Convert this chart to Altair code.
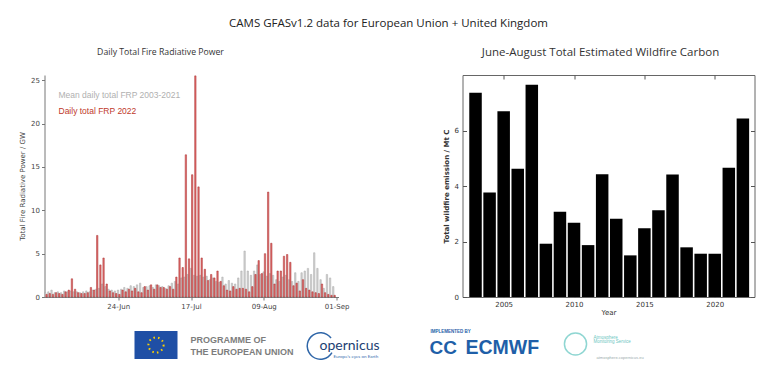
import altair as alt
import pandas as pd

# ---------------- data ----------------
day_labels = [d.strftime("%d-%b") for d in pd.date_range("2022-06-01", "2022-09-01")]
tick_labels = ["24-Jun", "17-Jul", "09-Aug", "01-Sep"]
series_names = ["Mean daily total FRP 2003-2021", "Daily total FRP 2022"]

mean_frp = [
    0.5, 0.6, 0.8, 0.5, 0.6, 0.5, 0.7, 0.6,
    0.7, 0.6, 0.6, 0.5, 0.6, 0.7, 0.6, 0.8,
    0.9, 1.0, 1.5, 1.2, 0.9, 0.8, 0.7, 0.8,
    0.9, 1.1, 1.0, 1.3, 1.2, 1.4, 1.6, 1.1,
    1.2, 1.3, 1.1, 1.4, 1.3, 1.2, 1.0, 1.3,
    1.6, 1.8, 1.5, 2.2, 2.3, 2.6, 3.3, 2.5,
    2.4, 2.5, 2.3, 2.4, 2.0, 2.2, 1.8, 1.7,
    2.3, 1.5, 1.9, 1.6, 1.5, 2.2, 3.0, 5.3,
    3.0, 2.5, 3.0, 3.7, 2.6, 2.9, 2.4, 2.7,
    2.5, 2.0, 1.8, 2.3, 2.5, 2.0, 1.8, 2.8,
    1.8, 2.8, 3.0, 3.3, 2.6, 5.1, 3.3, 2.0,
    1.0, 2.6, 2.2, 1.2,
]
frp_2022 = [
    0.3, 0.4, 0.3, 0.5, 0.4, 0.3, 0.6, 0.8,
    2.1, 0.9, 0.5, 0.4, 0.4, 0.5, 1.1, 0.8,
    7.1, 3.7, 4.5, 1.5, 0.7, 0.5, 0.4, 0.3,
    0.8, 0.6, 0.9, 0.7, 1.0, 0.6, 0.5, 1.2,
    0.8, 1.4, 0.9, 1.4, 1.1, 1.1, 0.9, 1.2,
    0.9, 2.3, 4.5, 3.4, 16.4, 4.4, 14.1, 25.5,
    12.7, 4.5, 3.2, 1.9, 2.6, 2.2, 3.0, 1.8,
    1.3, 0.8, 0.7, 1.2, 0.9, 1.0, 1.0, 0.9,
    0.6, 1.2, 2.6, 4.2, 2.7, 5.0, 12.1, 6.2,
    1.5, 3.0, 3.0, 4.7, 4.9, 4.0, 1.3, 1.6,
    0.7, 2.0, 1.0, 0.8, 0.6, 0.5, 0.4, 1.5,
    0.5, 0.3, 0.2, 0.2,
]

years = list(range(2003, 2023))
carbon = [7.36, 3.77, 6.69, 4.62, 7.65, 1.92, 3.07, 2.68, 1.87, 4.42,
          2.82, 1.50, 2.48, 3.13, 4.41, 1.79, 1.56, 1.56, 4.66, 6.43]

main_title = "CAMS GFASv1.2 data for European Union + United Kingdom"
left_title = "Daily Total Fire Radiative Power"
right_title = "June-August Total Estimated Wildfire Carbon"

n = len(mean_frp)
frp_df = pd.DataFrame({
    "day": day_labels[:n] * 2,
    "series": [series_names[0]] * n + [series_names[1]] * n,
    "frp": mean_frp + frp_2022,
})
carbon_df = pd.DataFrame({"year": years, "carbon": carbon})

AX_FONT = "DejaVu Sans"
TITLE_FONT = "Open Sans"


def label(text, x, y, size=8, color="#333", font=TITLE_FONT, weight="normal", align="left"):
    return alt.Chart(pd.DataFrame({"t": [text]})).mark_text(
        align=align, baseline="middle", fontSize=size, color=color, font=font,
        fontWeight=weight,
    ).encode(text="t:N", x=alt.value(x), y=alt.value(y))


def one():
    return alt.Chart(pd.DataFrame({"a": [0]}))


# ---------------- left panel ----------------
bars = alt.Chart(frp_df).mark_bar(strokeWidth=0.5).encode(
    x=alt.X("day:O", sort=None,
            scale=alt.Scale(domain=day_labels, paddingInner=0.12, paddingOuter=0),
            axis=alt.Axis(values=tick_labels, labelAngle=0, title=None, labelFont=AX_FONT,
                          labelFontSize=7, labelColor="#444", tickSize=3, tickColor="#777",
                          domainColor="#777", labelPadding=2)),
    xOffset=alt.XOffset("series:N", sort=series_names),
    y=alt.Y("frp:Q", scale=alt.Scale(domain=[0, 25.6], nice=False),
            axis=alt.Axis(values=[0, 5, 10, 15, 20, 25], title="Total Fire Radiative Power / GW",
                          labelFont=AX_FONT, labelFontSize=7, labelColor="#444",
                          titleFont=AX_FONT, titleFontSize=7, titleColor="#444",
                          titleFontWeight="normal", titlePadding=5,
                          tickSize=3, tickColor="#777", domainColor="#777",
                          labelPadding=2, grid=False)),
    color=alt.Color("series:N", scale=alt.Scale(domain=series_names, range=["#d2d2d2", "#e06c6c"]),
                    legend=None),
    stroke=alt.Stroke("series:N", scale=alt.Scale(domain=series_names, range=["#a8a8a8", "#a83030"]),
                      legend=None),
)

left_layers = [
    bars,
    label(series_names[0], 14, 20, size=8.5, color="#b0b0b0", font="Liberation Sans"),
    label(series_names[1], 14, 36, size=8.5, color="#c0392b", font="Liberation Sans"),
    label(main_title, 344, -51, size=11.5, color="#222", align="center"),
    label(left_title, 116, -23, size=8.7, color="#333", align="center"),
    # footer logos (decorative)
    one().mark_rect(color="#1f4fa5").encode(
        x=alt.value(90), x2=alt.value(133), y=alt.value(256), y2=alt.value(284)),
    one().mark_point(
        shape="circle", size=230, filled=False, stroke="#ffd200", strokeWidth=2,
        strokeDash=[1.5, 3.2], opacity=1).encode(x=alt.value(111.5), y=alt.value(270)),
    label("PROGRAMME OF", 146, 265, size=9, color="#7d7d7d", font="Liberation Sans", weight="bold"),
    label("THE EUROPEAN UNION", 146, 277, size=9, color="#7d7d7d", font="Liberation Sans", weight="bold"),
    one().mark_arc(radius=14, radius2=12.5, theta=2.1, theta2=7.2, color="#2f66a8").encode(
        x=alt.value(276), y=alt.value(271)),
    label("opernicus", 275, 271, size=14, color="#1d3f73", font="Lato"),
    label("Europe's eyes on Earth", 289, 282, size=4.5, color="#3a6fb0", font="Lato"),
    label("IMPLEMENTED BY", 386, 257, size=4.5, color="#1f5fa8", font="Liberation Sans", weight="bold"),
    label("CC", 385, 273, size=19, color="#1f5fa8", font="Liberation Sans", weight="bold"),
    label("ECMWF", 421, 273, size=19.5, color="#1f5fa8", font="Liberation Sans", weight="bold"),
    one().mark_point(
        shape="circle", size=490, filled=False, stroke="#8fd6d2", strokeWidth=1.5, opacity=1
    ).encode(x=alt.value(531), y=alt.value(269)),
    label("Atmosphere", 549, 262.5, size=4.5, color="#6cc6c2", font="Liberation Sans"),
    label("Monitoring Service", 549, 267, size=4.5, color="#6cc6c2", font="Liberation Sans"),
    label("atmosphere.copernicus.eu", 552, 283, size=4, color="#9aa", font="Liberation Sans"),
]
left = alt.layer(*left_layers).properties(
    width=294, height=222, view=alt.ViewBackground(strokeWidth=0))

# ---------------- right panel ----------------
rx_scale = alt.Scale(domain=[2002.43, 2022.47], nice=False, zero=False)
ry_scale = alt.Scale(domain=[0, 8], nice=False)
cbars = alt.Chart(carbon_df).mark_bar(color="black", size=12.5).encode(
    x=alt.X("year:Q", scale=rx_scale,
            axis=alt.Axis(values=[2005, 2010, 2015, 2020], format="d", title="Year",
                          labelFont=AX_FONT, labelFontSize=7, labelColor="#333",
                          titleFont=AX_FONT, titleFontSize=7, titleColor="#333",
                          titleFontWeight="normal", titlePadding=1,
                          tickSize=4, offset=-4, domain=False, tickColor="#555",
                          labelPadding=3, grid=False)),
    y=alt.Y("carbon:Q", scale=ry_scale,
            axis=alt.Axis(values=[0, 2, 4, 6], title="Total wildfire emission / Mt C",
                          labelFont=AX_FONT, labelFontSize=7, labelColor="#333",
                          titleFont=AX_FONT, titleFontSize=7, titleColor="#333",
                          titleFontWeight="bold", titlePadding=5,
                          tickSize=4, offset=-4, domain=False, tickColor="#555",
                          labelPadding=4, grid=False)),
)
cticks = alt.Chart(carbon_df).mark_bar(opacity=0).encode(
    x=alt.X("year:Q", scale=rx_scale,
            axis=alt.Axis(orient="top", values=[2005, 2010, 2015, 2020], labels=False,
                          title=None, tickSize=4, offset=-4, domain=False,
                          tickColor="#555", grid=False)),
    y=alt.Y("carbon:Q", scale=ry_scale,
            axis=alt.Axis(orient="right", values=[0, 2, 4, 6], labels=False,
                          title=None, tickSize=4, offset=-4, domain=False,
                          tickColor="#555", grid=False)),
)
right = alt.layer(
    cbars, cticks,
    label(right_title, 138, -22, size=11.5, color="#333", align="center"),
).resolve_axis(x="independent", y="independent").properties(
    width=292, height=222,
    view=alt.ViewBackground(stroke="#666", strokeWidth=1))

chart = alt.hconcat(left, right, spacing=124, bounds="flush").properties(
    padding={"left": 10.5, "top": 10, "right": 0, "bottom": 0},
    background="white",
).configure_view(strokeWidth=0)

chart.save("out.html", embed_options={"renderer": "svg", "actions": False})
